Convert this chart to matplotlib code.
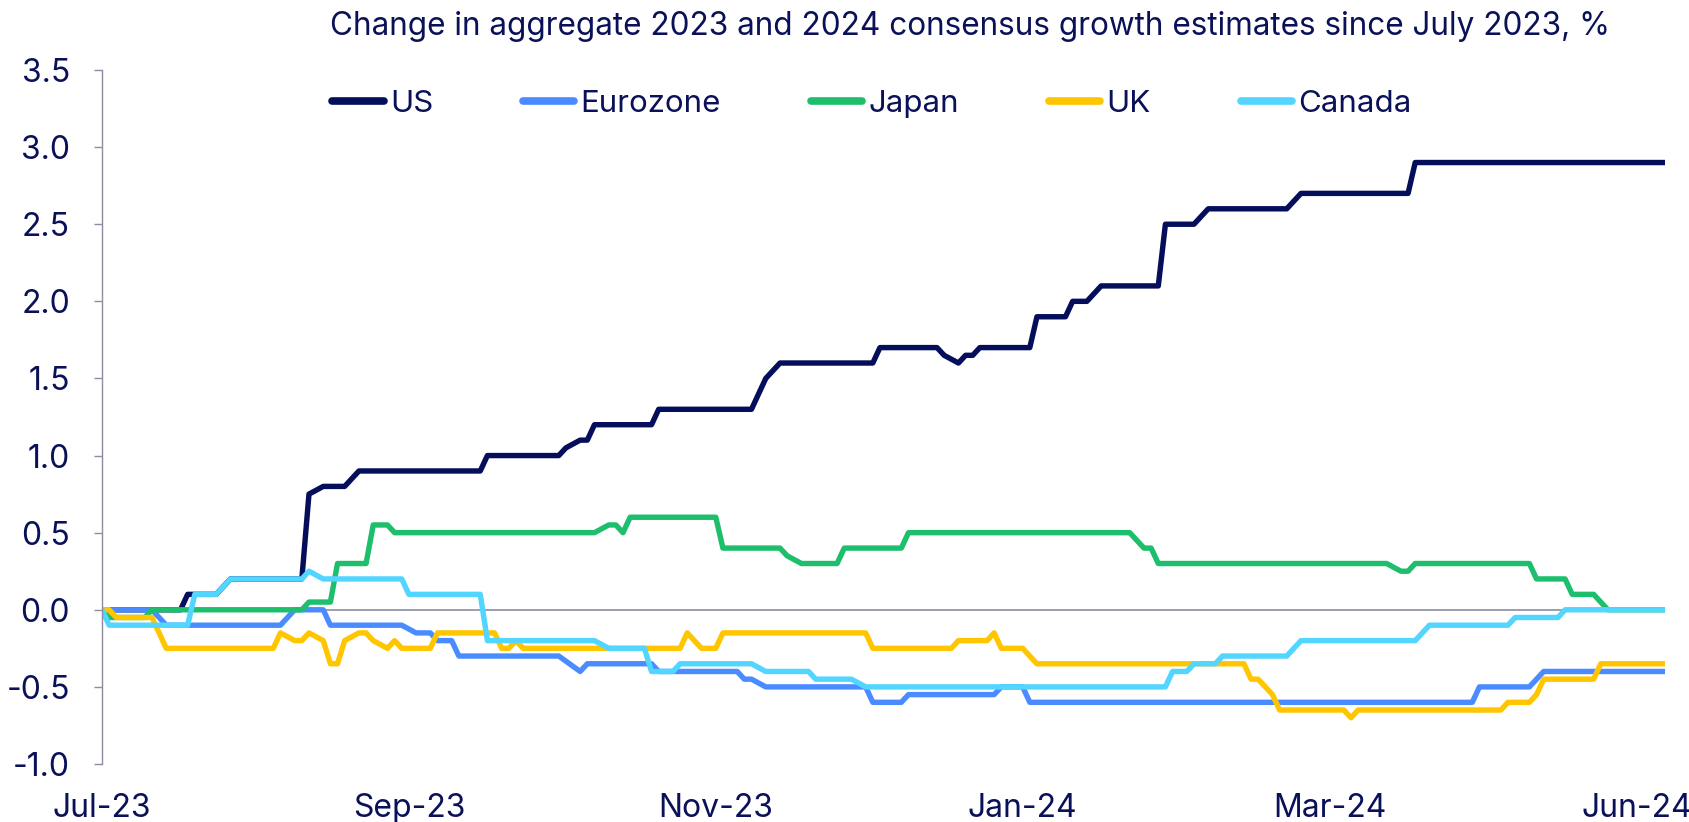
import matplotlib
matplotlib.use("Agg")
import matplotlib.pyplot as plt
import numpy as np

plt.rcParams["font.family"] = ["Inter", "DejaVu Sans"]

NAVY = "#0a1158"

# trading-day index since early July 2023 and the change in consensus growth (%)
us_day = [0, 11, 12, 16, 18, 28, 29, 31, 34, 36, 53, 54, 64, 65, 67, 68, 69, 77, 78,
          91, 92, 93, 94, 95, 108, 109, 117, 118, 120, 121, 122, 123, 130, 131, 135,
          136, 138, 139, 140, 148, 149, 153, 155, 166, 168, 183, 184, 219]
us_val = [0, 0, 0.1, 0.1, 0.2, 0.2, 0.75, 0.8, 0.8, 0.9, 0.9, 1.0, 1.0, 1.05, 1.1, 1.1,
          1.2, 1.2, 1.3, 1.3, 1.4, 1.5, 1.55, 1.6, 1.6, 1.7, 1.7, 1.65, 1.6, 1.65, 1.65,
          1.7, 1.7, 1.9, 1.9, 2.0, 2.0, 2.05, 2.1, 2.1, 2.5, 2.5, 2.6, 2.6, 2.7, 2.7,
          2.9, 2.9]

ez_day = [0, 7, 9, 25, 27, 31, 32, 42, 44, 46, 47, 49, 50, 64, 67, 68, 77, 78, 89, 90,
          91, 93, 107, 108, 112, 113, 125, 126, 129, 130, 192, 193, 200, 202, 219]
ez_val = [0, 0, -0.1, -0.1, 0, 0, -0.1, -0.1, -0.15, -0.15, -0.2, -0.2, -0.3, -0.3,
          -0.4, -0.35, -0.35, -0.4, -0.4, -0.45, -0.45, -0.5, -0.5, -0.6, -0.6, -0.55,
          -0.55, -0.5, -0.5, -0.6, -0.6, -0.5, -0.5, -0.4, -0.4]

jp_day = [0, 1, 6, 7, 28, 29, 32, 33, 37, 38, 40, 41, 69, 71, 72, 73, 74, 86, 87, 95,
          96, 98, 103, 104, 112, 113, 144, 146, 147, 148, 180, 182, 183, 184, 200, 201,
          205, 206, 209, 211, 219]
jp_val = [0, -0.05, -0.05, 0, 0, 0.05, 0.05, 0.3, 0.3, 0.55, 0.55, 0.5, 0.5, 0.55, 0.55,
          0.5, 0.6, 0.6, 0.4, 0.4, 0.35, 0.3, 0.3, 0.4, 0.4, 0.5, 0.5, 0.4, 0.4, 0.3,
          0.3, 0.25, 0.25, 0.3, 0.3, 0.2, 0.2, 0.1, 0.1, 0, 0]

uk_day = [0, 1, 2, 7, 9, 24, 25, 27, 28, 29, 31, 32, 33, 34, 36, 37, 38, 40, 41, 42, 46,
          47, 55, 56, 57, 58, 59, 81, 82, 84, 86, 87, 107, 108, 119, 120, 124, 125, 126,
          129, 131, 160, 161, 162, 164, 165, 174, 175, 176, 196, 197, 200, 201, 202,
          209, 210, 219]
uk_val = [0, 0, -0.05, -0.05, -0.25, -0.25, -0.15, -0.2, -0.2, -0.15, -0.2, -0.35,
          -0.35, -0.2, -0.15, -0.15, -0.2, -0.25, -0.2, -0.25, -0.25, -0.15, -0.15,
          -0.25, -0.25, -0.2, -0.25, -0.25, -0.15, -0.25, -0.25, -0.15, -0.15, -0.25,
          -0.25, -0.2, -0.2, -0.15, -0.25, -0.25, -0.35, -0.35, -0.45, -0.45, -0.55,
          -0.65, -0.65, -0.7, -0.65, -0.65, -0.6, -0.6, -0.55, -0.45, -0.45, -0.35,
          -0.35]

ca_day = [0, 1, 12, 13, 16, 18, 28, 29, 31, 42, 43, 53, 54, 69, 71, 76, 77, 80, 81, 91,
          93, 99, 100, 105, 107, 149, 150, 152, 153, 156, 157, 166, 168, 184, 186, 197,
          198, 204, 205, 219]
ca_val = [0, -0.1, -0.1, 0.1, 0.1, 0.2, 0.2, 0.25, 0.2, 0.2, 0.1, 0.1, -0.2, -0.2,
          -0.25, -0.25, -0.4, -0.4, -0.35, -0.35, -0.4, -0.4, -0.45, -0.45, -0.5, -0.5,
          -0.4, -0.4, -0.35, -0.35, -0.3, -0.3, -0.2, -0.2, -0.1, -0.1, -0.05, -0.05,
          0, 0]

series = [
    ("US", us_day, us_val, "#050e5b"),
    ("Eurozone", ez_day, ez_val, "#4a8cff"),
    ("Japan", jp_day, jp_val, "#1dbf6c"),
    ("UK", uk_day, uk_val, "#ffc600"),
    ("Canada", ca_day, ca_val, "#52d5ff"),
]

month_labels = ["Jul-23", "Sep-23", "Nov-23", "Jan-24", "Mar-24", "Jun-24"]
label_step = 43  # trading days between labelled dates
last_day = 219

fig = plt.figure(figsize=(16.9, 8.22), dpi=100)
ax = fig.add_axes([102 / 1690, 58 / 822, (1665 - 102) / 1690, (764 - 70) / 822])

ax.axhline(0, color="#8c8ca3", lw=1.2, zorder=1)
for name, x, y, c in series:
    ax.plot(x, y, color=c, lw=3.9, label=name, solid_capstyle="round",
            solid_joinstyle="round", zorder=2)

ax.set_xlim(0, last_day)
ax.set_ylim(-1.0, 3.5)
yt = np.arange(-1.0, 3.51, 0.5)
ax.set_yticks(yt)
ax.set_yticklabels([f"{v:.1f}" for v in yt])
ax.set_xticks(np.arange(len(month_labels)) * label_step)
ax.set_xticklabels(month_labels)

for s in ["top", "right", "bottom"]:
    ax.spines[s].set_visible(False)
ax.spines["left"].set_color("#8c8ca3")
ax.spines["left"].set_linewidth(1.0)
ax.tick_params(axis="y", length=6, width=1.0, color="#8c8ca3", pad=17,
               labelsize=23, labelcolor=NAVY)
ax.tick_params(axis="x", length=0, pad=21, labelsize=23, labelcolor=NAVY)

fig.text(970 / 1690, 1 - 35 / 822,
         "Change in aggregate 2023 and 2024 consensus growth estimates since July 2023, %",
         ha="center", va="baseline", fontsize=22.7, color=NAVY)

leg = fig.legend(loc="center left", bbox_to_anchor=(332 / 1690, 1 - 104 / 822),
                 ncol=5, frameon=False, fontsize=22.5, handlelength=1.65,
                 handletextpad=0.2, columnspacing=2.87, borderpad=0, borderaxespad=0)
for t in leg.get_texts():
    t.set_color(NAVY)
for h in leg.get_lines():
    h.set_linewidth(5.5)

fig.savefig("out.png", dpi=100)
